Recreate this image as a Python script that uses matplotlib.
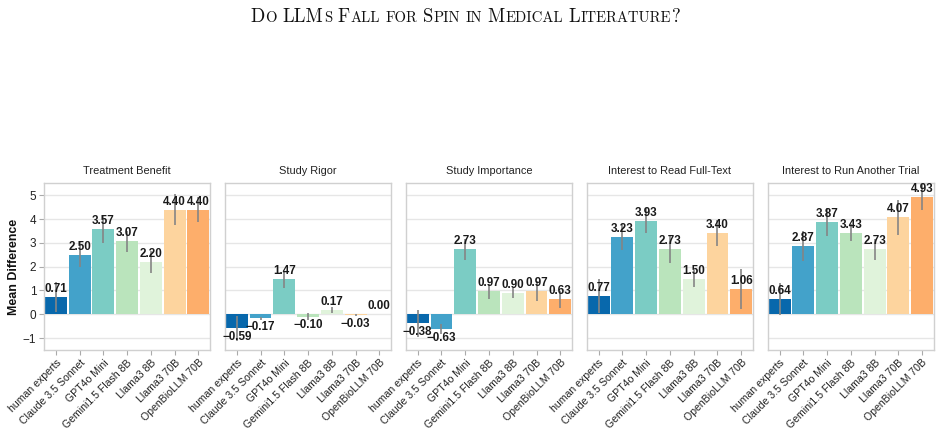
import matplotlib
matplotlib.use("Agg")
import matplotlib.pyplot as plt
import numpy as np

# ---------------- data ----------------
models = ["human experts", "Claude 3.5 Sonnet", "GPT4o Mini", "Gemini1.5 Flash 8B",
          "Llama3 8B", "Llama3 70B", "OpenBioLLM 70B"]
panel_titles = ["Treatment Benefit", "Study Rigor", "Study Importance",
                "Interest to Read Full-Text", "Interest to Run Another Trial"]

treatment_benefit = [0.71, 2.50, 3.57, 3.07, 2.20, 4.40, 4.40]
treatment_benefit_err = [0.63, 0.52, 0.58, 0.44, 0.47, 0.66, 0.54]
study_rigor = [-0.59, -0.17, 1.47, -0.10, 0.17, -0.03, 0.00]
study_rigor_err = [0.52, 0.07, 0.35, 0.16, 0.13, 0.06, 0.00]
study_importance = [-0.38, -0.63, 2.73, 0.97, 0.90, 0.97, 0.63]
study_importance_err = [0.56, 0.21, 0.45, 0.31, 0.20, 0.42, 0.35]
read_fulltext = [0.77, 3.23, 3.93, 2.73, 1.50, 3.40, 1.06]
read_fulltext_err = [0.70, 0.55, 0.52, 0.56, 0.37, 0.55, 0.83]
run_trial = [0.64, 2.87, 3.87, 3.43, 2.73, 4.07, 4.93]
run_trial_err = [0.69, 0.64, 0.58, 0.35, 0.43, 0.75, 0.55]

colors = ["#0868ac", "#43a2ca", "#7bccc4", "#bae4bc", "#e0f3db", "#fdd49e", "#fdae6b"]

values = [treatment_benefit, study_rigor, study_importance, read_fulltext, run_trial]
errors = [treatment_benefit_err, study_rigor_err, study_importance_err,
          read_fulltext_err, run_trial_err]

title_text = "Do LLMs Fall for Spin in Medical Literature?"

# ---------------- style ----------------
plt.rcParams['font.family'] = ['Liberation Sans', 'DejaVu Sans']
plt.rcParams['axes.unicode_minus'] = True

fig, axes = plt.subplots(1, 5, figsize=(9.42, 4.34), dpi=100, sharey=True)
fig.subplots_adjust(left=0.0467, right=0.9915, top=0.5776, bottom=0.1935, wspace=0.088)

x = np.arange(len(models))
for i, ax in enumerate(axes):
    v = values[i]
    e = errors[i]
    ax.bar(x, v, width=0.92, color=colors, zorder=2)
    ax.errorbar(x, v, yerr=e, fmt='none', ecolor='#858585', elinewidth=1.2,
                capsize=0, zorder=3)
    for xi, vi in zip(x, v):
        lab = f"{vi:.2f}".replace('-', '\u2212')
        if vi < 0:
            ax.annotate(lab, (xi, vi), xytext=(0, -1.8), textcoords='offset points',
                        ha='center', va='top', fontsize=8.4, fontweight='bold',
                        color='#1a1a1a', zorder=4)
        else:
            ax.annotate(lab, (xi, vi), xytext=(0, 1.4), textcoords='offset points',
                        ha='center', va='bottom', fontsize=8.4, fontweight='bold',
                        color='#1a1a1a', zorder=4)
    ax.set_xlim(-0.5, 6.5)
    ax.set_ylim(-1.5, 5.5)
    ax.set_yticks([-1, 0, 1, 2, 3, 4, 5])
    ax.set_xticks(x)
    ax.set_xticklabels(models, rotation=45, ha='right', rotation_mode='anchor',
                       fontsize=7.6, color='#222222')
    ax.set_title(panel_titles[i], fontsize=7.9, color='#222222', pad=7)
    ax.yaxis.grid(True, color='#e6e6e6', linewidth=1.0, zorder=0)
    ax.set_axisbelow(True)
    for sp in ax.spines.values():
        sp.set_color('#d0d0d0')
        sp.set_linewidth(1.0)
    ax.tick_params(axis='x', length=3.5, color='#aaaaaa', pad=2)
    if i == 0:
        ax.tick_params(axis='y', length=3.5, color='#aaaaaa', labelsize=8.5,
                       labelcolor='#222222', pad=2)
        ax.set_ylabel("Mean Difference", fontsize=8.9, fontweight='bold',
                      color='#111111', labelpad=2)
    else:
        ax.tick_params(axis='y', length=0, labelleft=False)

# ---------------- small-caps title ----------------
def draw_smallcaps(fig, text, y_frac, center_px, big=13.5, small=10.6, family='cmr10'):
    renderer = fig.canvas.get_renderer()
    fw = fig.get_figwidth() * fig.dpi
    items = []
    cursor = 0.0
    space = small * 0.333 * fig.dpi / 72.0
    for wi, word in enumerate(text.split(' ')):
        segs = []
        for ch in word:
            if ch.islower():
                s, sz = ch.upper(), small
            else:
                s, sz = ch, big
            if segs and segs[-1][1] == sz:
                segs[-1][0] += s
            else:
                segs.append([s, sz])
        if wi > 0:
            cursor += space
        for s, sz in segs:
            t = fig.text(0, y_frac, s, fontsize=sz, family=family, va='baseline',
                         ha='left', color='#111111')
            w = t.get_window_extent(renderer).width
            items.append((t, cursor))
            cursor += w + 0.6
    start = center_px - cursor / 2.0
    for t, off in items:
        t.set_x((start + off) / fw)

draw_smallcaps(fig, title_text, 1 - 21.5 / 434, 466)

fig.savefig("out.png", dpi=100)
